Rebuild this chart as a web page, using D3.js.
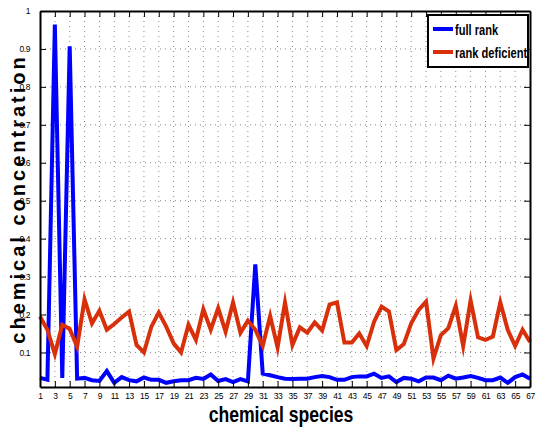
<!DOCTYPE html>
<html>
<head>
<meta charset="utf-8">
<script src="https://cdn.jsdelivr.net/npm/d3@7"></script>
<style>
  body { margin: 0; background: #fff; }
  svg { display: block; }
</style>
</head>
<body>
<div id="chart"></div>
<script>
// chemical species index 1..67
const species = d3.range(1, 68);

const fullRank = [
  0.033, 0.028, 0.964, 0.033, 0.907, 0.031, 0.033, 0.027, 0.025, 0.051,
  0.020, 0.035, 0.027, 0.024, 0.034, 0.028, 0.028, 0.020, 0.024, 0.027,
  0.027, 0.033, 0.030, 0.042, 0.025, 0.030, 0.022, 0.030, 0.024, 0.332,
  0.044, 0.040, 0.035, 0.031, 0.030, 0.031, 0.031, 0.035, 0.038, 0.035,
  0.028, 0.028, 0.035, 0.037, 0.037, 0.044, 0.033, 0.037, 0.022, 0.033,
  0.031, 0.024, 0.034, 0.034, 0.027, 0.039, 0.031, 0.034, 0.038, 0.033,
  0.027, 0.027, 0.034, 0.020, 0.035, 0.042, 0.031
];

const rankDeficient = [
  0.195, 0.160, 0.096, 0.173, 0.162, 0.115, 0.240, 0.177, 0.210, 0.160,
  0.175, 0.192, 0.208, 0.120, 0.100, 0.168, 0.205, 0.168, 0.124, 0.100,
  0.173, 0.133, 0.214, 0.160, 0.217, 0.155, 0.232, 0.152, 0.184, 0.160,
  0.117, 0.196, 0.113, 0.232, 0.120, 0.166, 0.152, 0.179, 0.158, 0.226,
  0.232, 0.126, 0.126, 0.150, 0.117, 0.181, 0.221, 0.208, 0.106, 0.122,
  0.177, 0.212, 0.234, 0.084, 0.146, 0.164, 0.223, 0.117, 0.237, 0.140,
  0.133, 0.142, 0.232, 0.160, 0.117, 0.160, 0.128
];

const xTicks = d3.range(1, 68, 2);
const yTicks = d3.range(1, 11).map(d => d / 10);

const series = [
  { name: "full rank", values: fullRank, color: "#0000ff" },
  { name: "rank deficient", values: rankDeficient, color: "#d8300a" }
];

const width = 536, height = 428;
const margin = { top: 11, right: 6, bottom: 41, left: 40 };
const font = "'Liberation Sans', Arial, sans-serif";

const svg = d3.select("#chart").append("svg")
  .attr("width", width)
  .attr("height", height);

const x = d3.scaleLinear()
  .domain([1, 67])
  .range([margin.left, width - margin.right]);

const y = d3.scaleLinear()
  .domain([0.009, 1])
  .range([height - margin.bottom, margin.top]);

// dotted grid
svg.append("g")
  .selectAll("line")
  .data(xTicks.slice(1, -1))
  .join("line")
  .attr("x1", d => x(d)).attr("x2", d => x(d))
  .attr("y1", y.range()[0]).attr("y2", y.range()[1])
  .attr("stroke", "#888")
  .attr("stroke-width", 1)
  .attr("stroke-dasharray", "1,4");

svg.append("g")
  .selectAll("line")
  .data(yTicks.slice(0, -1))
  .join("line")
  .attr("x1", x.range()[0]).attr("x2", x.range()[1])
  .attr("y1", d => y(d)).attr("y2", d => y(d))
  .attr("stroke", "#888")
  .attr("stroke-width", 1)
  .attr("stroke-dasharray", "1,4");

// lines
const line = d3.line()
  .x((d, i) => x(species[i]))
  .y(d => y(d));

svg.append("g")
  .selectAll("path")
  .data(series)
  .join("path")
  .attr("d", d => line(d.values))
  .attr("fill", "none")
  .attr("stroke", d => d.color)
  .attr("stroke-width", 4)
  .attr("stroke-linejoin", "miter")
  .attr("stroke-miterlimit", 10);

// axes (ticks inward, box)
const tickLen = 6;
const xAxisB = svg.append("g")
  .attr("transform", `translate(0,${y.range()[0]})`)
  .call(d3.axisBottom(x).tickValues(xTicks).tickSizeInner(-tickLen).tickSizeOuter(0).tickPadding(6));
const xAxisT = svg.append("g")
  .attr("transform", `translate(0,${y.range()[1]})`)
  .call(d3.axisTop(x).tickValues(xTicks).tickSizeInner(-tickLen).tickSizeOuter(0).tickFormat(""));
const yAxisL = svg.append("g")
  .attr("transform", `translate(${x.range()[0]},0)`)
  .call(d3.axisLeft(y).tickValues(yTicks).tickSizeInner(-tickLen).tickSizeOuter(0).tickPadding(10)
    .tickFormat(d => d === 1 ? "1" : d3.format(".1f")(d)));
const yAxisR = svg.append("g")
  .attr("transform", `translate(${x.range()[1]},0)`)
  .call(d3.axisRight(y).tickValues(yTicks).tickSizeInner(-tickLen).tickSizeOuter(0).tickFormat(""));

[xAxisB, xAxisT, yAxisL, yAxisR].forEach(g => {
  g.select(".domain").attr("stroke", "#000").attr("stroke-width", 2);
  g.selectAll(".tick line").attr("stroke", "#000").attr("stroke-width", 1);
  g.selectAll("text").attr("font-family", font).attr("font-size", 8.5)
    .attr("letter-spacing", -0.4).attr("fill", "#000");
});

// axis titles (condensed by horizontal scaling)
svg.append("text")
  .attr("transform", `translate(${(x.range()[0] + x.range()[1]) / 2 - 4},422) scale(0.8,1)`)
  .attr("text-anchor", "middle")
  .attr("font-family", font)
  .attr("font-weight", "bold")
  .attr("font-size", 22)
  .text("chemical species");

svg.append("text")
  .attr("transform", `translate(25,${(y.range()[0] + y.range()[1]) / 2}) rotate(-90)`)
  .attr("text-anchor", "middle")
  .attr("font-family", font)
  .attr("font-weight", "bold")
  .attr("font-size", 20)
  .attr("letter-spacing", 3)
  .text("chemical concentration");

// legend
const lg = svg.append("g").attr("transform", "translate(428,15)");
lg.append("rect")
  .attr("width", 100).attr("height", 52)
  .attr("fill", "#fff")
  .attr("stroke", "#000")
  .attr("stroke-width", 2);
const item = lg.selectAll("g.item")
  .data(series)
  .join("g")
  .attr("class", "item")
  .attr("transform", (d, i) => `translate(0,${14 + i * 23})`);
item.append("line")
  .attr("x1", 5).attr("x2", 25)
  .attr("stroke", d => d.color)
  .attr("stroke-width", 4);
item.append("text")
  .attr("transform", "translate(27,5.5) scale(0.74,1)")
  .attr("font-family", font)
  .attr("font-weight", "bold")
  .attr("font-size", 15)
  .text(d => d.name);
</script>
</body>
</html>
